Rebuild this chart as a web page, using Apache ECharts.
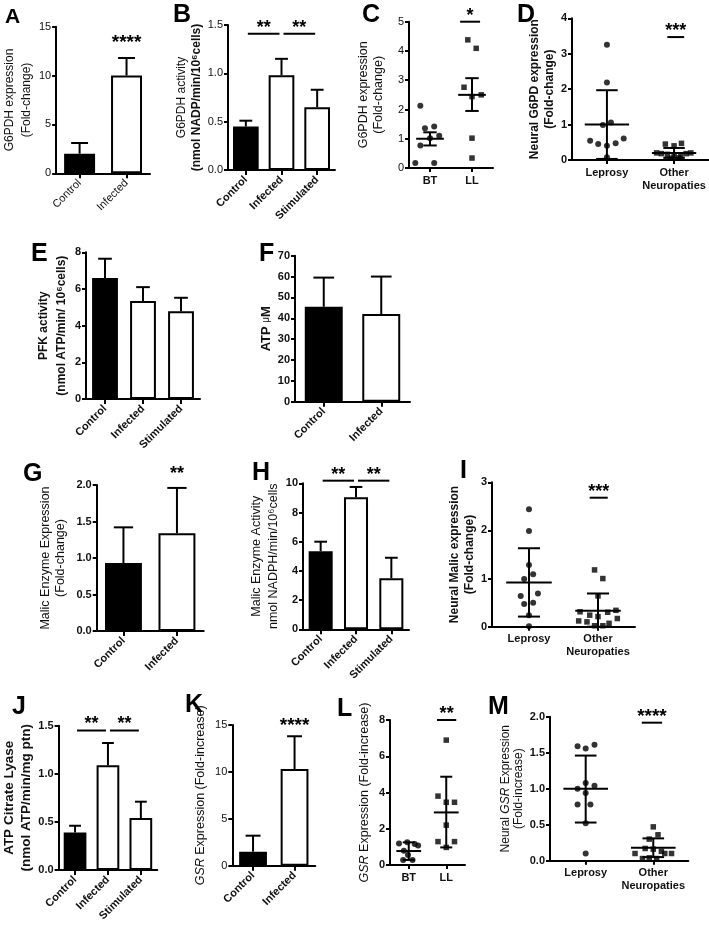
<!DOCTYPE html>
<html><head><meta charset="utf-8">
<script src="https://cdn.jsdelivr.net/npm/echarts@6/dist/echarts.min.js"></script>
<style>html,body{margin:0;padding:0;background:#fff}#c{width:709px;height:926px}</style>
</head><body><div id="c"></div>
<script>
const FONT = '"Liberation Sans", Arial, Helvetica, sans-serif';

// ---------- DATA ----------
// A
const aCats = ['Control', 'Infected'];
const aMeans = [2.0, 10.0];
const aErrs = [1.1, 1.8];
const aYTicks = [0, 5, 10, 15];
const aSig = [[1, 1, 13.8, '****']];
// B
const bCats = ['Control', 'Infected', 'Stimulated'];
const bMeans = [0.45, 0.98, 0.65];
const bErrs = [0.06, 0.17, 0.18];
const bYTicks = [0, 0.5, 1.0, 1.5];
const bSig = [[0, 1, 1.41, '**'], [1, 2, 1.41, '**']];
// C
const cCats = ['BT', 'LL'];
const cBT = [2.13, 1.36, 1.42, 1.10, 1.02, 0.77, 0.17, 0.17];
const cBTJit = [-0.23, -0.12, 0.10, 0.22, 0, -0.23, -0.35, 0.10];
const cLL = [4.38, 4.09, 2.76, 2.44, 2.50, 1.02, 0.34];
const cLLJit = [-0.10, 0.10, -0.19, 0, 0.22, 0, 0];
const cStats = [[1, 1.0, 0.77, 1.22], [2, 2.5, 1.95, 3.07]];
const cYTicks = [0, 1, 2, 3, 4, 5];
const cSig = [[1.67, 2.24, 5.0, '*']];
// D
const dCats = ['Leprosy', 'Other\nNeuropaties'];
const dLep = [3.25, 2.19, 0.99, 1.06, 0.54, 0.45, 0.40, 0.47, 0.61, 0.08];
const dLepJit = [0, 0, -0.06, 0.06, -0.25, -0.13, 0, 0.13, 0.25, 0];
const dOth = [0.45, 0.40, 0.47, 0.20, 0.18, 0.16, 0.10, 0.05, 0.06, 0.12, 0.18, 0.20];
const dOthJit = [-0.13, 0, 0.11, -0.26, -0.19, -0.10, 0, -0.04, 0.07, 0.10, 0.18, 0.25];
const dStats = [[1, 1.0, 0.03, 1.97], [2, 0.2, 0.06, 0.34]];
const dYTicks = [0, 1, 2, 3, 4];
const dSig = [[1.87, 2.18, 3.47, '***']];
// E
const eCats = ['Control', 'Infected', 'Stimulated'];
const eMeans = [6.6, 5.35, 4.78];
const eErrs = [1.05, 0.75, 0.74];
const eYTicks = [0, 2, 4, 6, 8];
// F
const fCats = ['Control', 'Infected'];
const fMeans = [45.5, 42];
const fErrs = [14, 18];
const fYTicks = [0, 10, 20, 30, 40, 50, 60, 70];
// G
const gCats = ['Control', 'Infected'];
const gMeans = [0.93, 1.34];
const gErrs = [0.49, 0.62];
const gYTicks = [0, 0.5, 1.0, 1.5, 2.0];
const gSig = [[1, 1, 2.2, '**']];
// H
const hCats = ['Control', 'Infected', 'Stimulated'];
const hMeans = [5.35, 9.05, 3.5];
const hErrs = [0.65, 0.7, 1.4];
const hYTicks = [0, 2, 4, 6, 8, 10];
const hSig = [[0, 1, 10.18, '**'], [1, 2, 10.18, '**']];
// I
const iCats = ['Leprosy', 'Other\nNeuropaties'];
const iLep = [2.44, 1.99, 1.28, 1.09, 0.99, 0.69, 0.64, 0.50, 0.47, 0.24, 0.01];
const iLepJit = [0, 0, 0, 0.06, -0.07, 0.13, -0.12, 0.06, -0.07, 0, 0];
const iOth = [1.18, 1.0, 0.64, 0.31, 0.24, 0.21, 0.30, 0.34, 0.12, 0.10, 0.07, 0.17, 0.02, 0.02];
const iOthJit = [-0.05, 0.07, 0, -0.26, -0.12, 0, 0.14, 0.26, -0.28, -0.16, 0.16, 0.28, -0.05, 0.07];
const iStats = [[1, 0.92, 0.21, 1.63], [2, 0.33, 0.0, 0.69]];
const iYTicks = [0, 1, 2, 3];
const iSig = [[1.85, 2.17, 2.68, '***']];
// J
const jCats = ['Control', 'Infected', 'Stimulated'];
const jMeans = [0.39, 1.09, 0.54];
const jErrs = [0.07, 0.23, 0.17];
const jYTicks = [0, 0.5, 1.0, 1.5];
const jSig = [[0, 1, 1.45, '**'], [1, 2, 1.45, '**']];
// K
const kCats = ['Control', 'Infected'];
const kMeans = [1.5, 10.3];
const kErrs = [1.7, 3.5];
const kYTicks = [0, 5, 10, 15];
const kSig = [[1, 1, 15.35, '****']];
// L
const lCats = ['BT', 'LL'];
const lBT = [1.19, 1.25, 1.16, 1.07, 0.79, 0.55, 0.28, 0.28];
const lBTJit = [-0.26, -0.04, 0.16, 0.25, -0.13, -0.02, -0.15, 0.10];
const lLL = [6.89, 3.80, 3.46, 3.46, 2.20, 1.29, 1.29, 0.97];
const lLLJit = [0, -0.22, 0, 0.22, 0, -0.22, 0.22, 0];
const lStats = [[1, 0.77, 0.28, 1.25], [2, 2.9, 0.97, 4.87]];
const lYTicks = [0, 2, 4, 6, 8];
const lSig = [[1.7, 2.32, 8.0, '**']];
// M
const mCats = ['Leprosy', 'Other\nNeuropaties'];
const mLep = [1.59, 1.56, 1.61, 1.08, 1.00, 1.04, 0.94, 0.78, 0.78, 0.52, 0.10];
const mLepJit = [-0.12, 0, 0.13, 0, -0.12, 0.13, 0, -0.12, 0.07, 0, 0];
const mOth = [0.47, 0.36, 0.30, 0.16, 0.10, 0.03, 0.04, 0.03, 0.10, 0.10, 0.17, 0.13];
const mOthJit = [0, 0.07, -0.06, 0, -0.27, -0.16, -0.06, 0.05, 0.17, 0.27, -0.12, 0.12];
const mStats = [[1, 1.0, 0.53, 1.46], [2, 0.18, 0.05, 0.31]];
const mYTicks = [0, 0.5, 1.0, 1.5, 2.0];
const mSig = [[1.80, 2.16, 1.917, '****']];

// ---------- BUILD ----------
const grids = [], xAxes = [], yAxes = [], series = [], graphics = [];
const BLACK = '#000';

function yAxisCfg(gi, p) {
  const t = p.yTicks;
  const nw = p.nameBold ? 'bold' : 'normal';
  const ns = p.nameSize || 12, nlh = p.nameLH || 15;
  return {
    gridIndex: gi, type: 'value', min: t[0], max: t[t.length - 1], interval: t[1] - t[0],
    splitLine: { show: false },
    axisLine: { show: true, onZero: false, lineStyle: { color: BLACK, width: 2 } },
    axisTick: { show: true, length: 4, lineStyle: { color: BLACK, width: 2 } },
    axisLabel: { color: '#111', fontSize: 11, fontFamily: FONT, fontWeight: p.tickBold ? 'bold' : 'normal', margin: 5,
      formatter: v => v.toFixed(p.dec || 0) },
    name: p.yName, nameLocation: 'middle', nameRotate: 90, nameGap: p.nameGap,
    nameTextStyle: { color: '#111', fontFamily: FONT, fontSize: ns, fontWeight: nw, lineHeight: nlh,
      rich: {
        r: { fontFamily: FONT, fontSize: ns, fontWeight: 'normal', lineHeight: nlh, color: '#111' },
        b: { fontFamily: FONT, fontSize: ns, fontWeight: 'bold', lineHeight: nlh, color: '#111' },
        i: { fontFamily: FONT, fontSize: ns, fontWeight: nw, fontStyle: 'italic', lineHeight: nlh, color: '#111' },
        mu: { fontFamily: FONT, fontSize: ns - 3, fontWeight: 'normal', lineHeight: nlh, color: '#111' }
      } }
  };
}

function sigSeries(gi, sig, size) {
  return {
    type: 'custom', xAxisIndex: gi, yAxisIndex: gi, silent: true, z: 6, clip: false,
    data: sig.map(s => [s[0], s[2]]),
    renderItem(params, api) {
      const s = sig[params.dataIndex];
      const p1 = api.coord([s[0], s[2]]), p2 = api.coord([s[1], s[2]]);
      const children = [];
      let ty;
      if (s[0] !== s[1]) {
        children.push({ type: 'line', shape: { x1: p1[0] + 2, y1: p1[1], x2: p2[0] - 2, y2: p2[1] },
          style: { stroke: BLACK, lineWidth: 2 } });
        ty = p1[1] - 10;
      } else ty = p1[1];
      children.push({ type: 'text', x: (p1[0] + p2[0]) / 2, y: ty + 4,
        style: { text: s[3], fill: BLACK, font: 'bold ' + size + 'px ' + FONT,
          align: 'center', verticalAlign: 'middle', textAlign: 'center', textVerticalAlign: 'middle' } });
      return { type: 'group', children };
    }
  };
}

function barPanel(p) {
  const gi = grids.length;
  grids.push({ left: p.left, top: p.top, width: p.width, height: p.height });
  xAxes.push({
    gridIndex: gi, type: 'category', data: p.cats,
    axisLine: { show: true, onZero: false, lineStyle: { color: BLACK, width: 2 } },
    axisTick: { show: true, alignWithLabel: true, length: 5, lineStyle: { color: BLACK, width: 2 } },
    axisLabel: { rotate: 45, interval: 0, fontSize: 11, fontFamily: FONT, color: '#111',
      fontWeight: p.xBold ? 'bold' : 'normal', margin: 8 }
  });
  yAxes.push(yAxisCfg(gi, p));
  series.push({
    type: 'bar', xAxisIndex: gi, yAxisIndex: gi, silent: true, barWidth: p.barWidth, z: 2,
    data: p.means.map((v, i) => ({ value: v, itemStyle: { color: i === 0 ? BLACK : '#fff' } })),
    itemStyle: { borderColor: BLACK, borderWidth: 2 }
  });
  series.push({
    type: 'custom', xAxisIndex: gi, yAxisIndex: gi, silent: true, z: 4,
    data: p.means.map((m, i) => [i, m, m + p.errs[i]]),
    renderItem(params, api) {
      const x = api.value(0);
      const a = api.coord([x, api.value(1)]), b = api.coord([x, api.value(2)]);
      const half = api.size([1, 0])[0] * 0.18;
      return { type: 'group', children: [
        { type: 'line', shape: { x1: a[0], y1: a[1], x2: b[0], y2: b[1] }, style: { stroke: BLACK, lineWidth: 2 } },
        { type: 'line', shape: { x1: b[0] - half, y1: b[1], x2: b[0] + half, y2: b[1] }, style: { stroke: BLACK, lineWidth: 2 } }
      ] };
    }
  });
  if (p.sig) series.push(sigSeries(gi, p.sig, p.starSize || 18));
}

function scatterPanel(p) {
  const gi = grids.length;
  grids.push({ left: p.left, top: p.top, width: p.width, height: p.height });
  const pos = p.cats.map((c, i) => i + 1);
  xAxes.push({
    gridIndex: gi, type: 'value', min: p.xMin, max: p.xMax, splitLine: { show: false },
    axisLine: { show: true, onZero: false, lineStyle: { color: BLACK, width: 2 } },
    axisTick: { show: true, customValues: pos, length: 4, lineStyle: { color: BLACK, width: 2 } },
    axisLabel: { customValues: pos, formatter: v => p.cats[Math.round(v) - 1], fontSize: 11, lineHeight: 13,
      fontWeight: 'bold', fontFamily: FONT, color: '#111', margin: 6 }
  });
  yAxes.push(yAxisCfg(gi, p));
  series.push({
    type: 'scatter', xAxisIndex: gi, yAxisIndex: gi, silent: true, symbol: 'circle', symbolSize: 6, z: 3,
    itemStyle: { color: BLACK }, data: p.g1.map((v, i) => [1 + p.j1[i], v])
  });
  series.push({
    type: 'scatter', xAxisIndex: gi, yAxisIndex: gi, silent: true, symbol: 'rect', symbolSize: 5.5, z: 3,
    itemStyle: { color: BLACK }, data: p.g2.map((v, i) => [2 + p.j2[i], v])
  });
  series.push({
    type: 'custom', xAxisIndex: gi, yAxisIndex: gi, silent: true, z: 4, clip: false,
    data: p.stats,
    renderItem(params, api) {
      const x = api.value(0), m = api.value(1), lo = api.value(2), hi = api.value(3);
      const a1 = api.coord([x - 0.33, m]), a2 = api.coord([x + 0.33, m]);
      const pl = api.coord([x, lo]), ph = api.coord([x, hi]);
      const cw = api.size([0.16, 0])[0];
      const st = { stroke: BLACK, lineWidth: 2 };
      return { type: 'group', children: [
        { type: 'line', shape: { x1: a1[0], y1: a1[1], x2: a2[0], y2: a2[1] }, style: st },
        { type: 'line', shape: { x1: pl[0], y1: pl[1], x2: ph[0], y2: ph[1] }, style: st },
        { type: 'line', shape: { x1: ph[0] - cw, y1: ph[1], x2: ph[0] + cw, y2: ph[1] }, style: st },
        { type: 'line', shape: { x1: pl[0] - cw, y1: pl[1], x2: pl[0] + cw, y2: pl[1] }, style: st }
      ] };
    }
  });
  if (p.sig) series.push(sigSeries(gi, p.sig, p.starSize || 18));
}

function letter(t, x, capTop, size) {
  const fs = size || 25;
  graphics.push({ type: 'text', left: x, top: capTop - fs * 0.1 + 2, silent: true,
    style: { text: t, font: 'bold ' + fs + 'px ' + FONT, fill: BLACK } });
}

// ---------- PANELS ----------
barPanel({ left: 55, top: 26.7, width: 95, height: 146.6, cats: aCats, means: aMeans, errs: aErrs, yTicks: aYTicks,
  barWidth: '66%', yName: 'G6PDH expression\n(Fold-change)', nameGap: 15, nameSize: 12, nameLH: 17, sig: aSig, starSize: 19 });
barPanel({ left: 228, top: 25, width: 107, height: 145, cats: bCats, means: bMeans, errs: bErrs, yTicks: bYTicks, dec: 1,
  barWidth: '72%', xBold: true, yName: '{r|G6PDH activity}\n{b|(nmol NADP/min/10⁶cells)}', nameGap: 24, nameLH: 15, sig: bSig });
scatterPanel({ left: 409, top: 21.7, width: 84, height: 146.3, xMin: 0.5, xMax: 2.5, cats: cCats,
  g1: cBT, j1: cBTJit, g2: cLL, j2: cLLJit, stats: cStats, yTicks: cYTicks,
  yName: 'G6PDH expression\n(Fold-change)', nameGap: 23, nameSize: 12.5, nameLH: 15, sig: cSig });
scatterPanel({ left: 572, top: 18.3, width: 139, height: 141.7, xMin: 0.48, xMax: 2.52, cats: dCats,
  g1: dLep, j1: dLepJit, g2: dOth, j2: dOthJit, stats: dStats, yTicks: dYTicks, tickBold: true,
  yName: 'Neural G6PD expression\n(Fold-change)', nameBold: true, nameGap: 11, nameSize: 12, nameLH: 14.7, sig: dSig });
barPanel({ left: 86, top: 252.3, width: 114, height: 146.7, cats: eCats, means: eMeans, errs: eErrs, yTicks: eYTicks,
  barWidth: '68%', xBold: true, tickBold: true, yName: 'PFK activity\n(nmol ATP/min/ 10⁶cells)', nameBold: true,
  nameGap: 15, nameSize: 12, nameLH: 18.4 });
barPanel({ left: 295, top: 255.7, width: 115, height: 146, cats: fCats, means: fMeans, errs: fErrs, yTicks: fYTicks,
  barWidth: '66%', xBold: true, tickBold: true, yName: 'ATP {mu|μ}M', nameBold: true, nameGap: 20, nameSize: 13, nameLH: 15 });
barPanel({ left: 96.7, top: 485, width: 107, height: 146, cats: gCats, means: gMeans, errs: gErrs, yTicks: gYTicks, dec: 1,
  barWidth: '69%', xBold: true, tickBold: true, yName: 'Malic Enzyme Expression\n(Fold-change)', nameGap: 29, nameSize: 12.5,
  nameLH: 15, sig: gSig });
barPanel({ left: 303, top: 483.3, width: 106, height: 146, cats: hCats, means: hMeans, errs: hErrs, yTicks: hYTicks,
  barWidth: '68%', xBold: true, tickBold: true, yName: 'Malic Enzyme Activity\nnmol NADPH/min/10⁶cells', nameGap: 16,
  nameSize: 12.5, nameLH: 16.6, sig: hSig });
scatterPanel({ left: 492, top: 482.3, width: 143, height: 144.4, xMin: 0.464, xMax: 2.536, cats: iCats,
  g1: iLep, j1: iLepJit, g2: iOth, j2: iOthJit, stats: iStats, yTicks: iYTicks, tickBold: true,
  yName: 'Neural Malic expression\n(Fold-change)', nameBold: true, nameGap: 11, nameSize: 12, nameLH: 15, sig: iSig });
barPanel({ left: 49.3, top: 725.7, width: 108, height: 144.3, cats: jCats, means: jMeans, errs: jErrs, yTicks: jYTicks, dec: 1,
  barWidth: '69%', xBold: true, tickBold: true, yName: 'ATP Citrate Lyase\n(nmol ATP/min/mg ptn)', nameBold: true,
  nameGap: 16, nameSize: 13.5, nameLH: 16.7, sig: jSig });
barPanel({ left: 232.3, top: 725, width: 83, height: 140.7, cats: kCats, means: kMeans, errs: kErrs, yTicks: kYTicks,
  barWidth: '67%', xBold: true, yName: '{i|GSR} Expression (Fold-increase)', nameGap: 24, nameSize: 12.5, nameLH: 15,
  sig: kSig, starSize: 19 });
scatterPanel({ left: 390, top: 720, width: 75, height: 145, xMin: 0.5, xMax: 2.5, cats: lCats,
  g1: lBT, j1: lBTJit, g2: lLL, j2: lLLJit, stats: lStats, yTicks: lYTicks, tickBold: true,
  yName: '{i|GSR} Expression (Fold-increase)', nameGap: 18, nameSize: 12.5, nameLH: 15, sig: lSig });
scatterPanel({ left: 550, top: 716.7, width: 138.3, height: 144, xMin: 0.472, xMax: 2.518, cats: mCats,
  g1: mLep, j1: mLepJit, g2: mOth, j2: mOthJit, stats: mStats, yTicks: mYTicks, tickBold: true, dec: 1,
  yName: 'Neural {i|GSR} Expression\n(Fold-increase)', nameGap: 16, nameSize: 12, nameLH: 13.5, sig: mSig, starSize: 19 });

letter('A', 5, 7, 21);
letter('B', 173, 3);
letter('C', 362, 3);
letter('D', 517, 3);
letter('E', 31, 242);
letter('F', 259, 242);
letter('G', 23, 462);
letter('H', 252, 461);
letter('I', 460, 459);
letter('J', 12, 695);
letter('K', 185, 693);
letter('L', 337, 697);
letter('M', 488, 695);

const chart = echarts.init(document.getElementById('c'), null, { renderer: 'canvas' });
chart.setOption({
  backgroundColor: '#fff', animation: false,
  grid: grids, xAxis: xAxes, yAxis: yAxes, series: series, graphic: graphics
});
</script></body></html>
